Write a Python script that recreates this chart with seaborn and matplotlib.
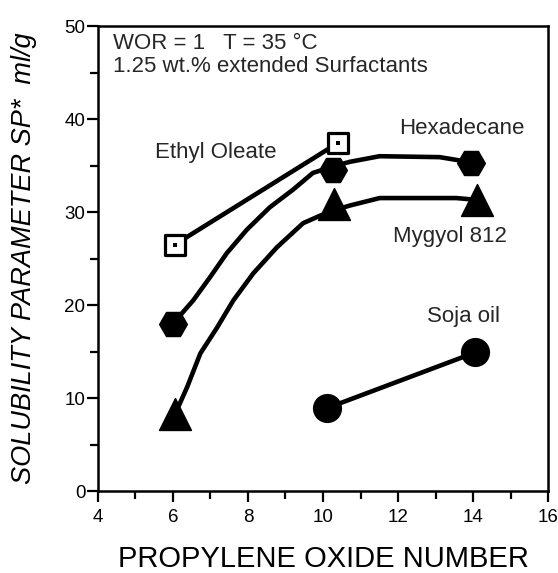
import numpy as np
import pandas as pd
import matplotlib
matplotlib.use("Agg")
import matplotlib.pyplot as plt
import seaborn as sns

# measured points (marker positions)
eo_x = [6.05, 10.39]
eo_y = [26.5, 37.4]
hex_x = [6.0, 10.26, 13.95]
hex_y = [18.0, 34.5, 35.3]
myg_x = [6.06, 10.3, 14.1]
myg_y = [8.3, 30.9, 31.3]
soja_x = [10.1, 14.06]
soja_y = [8.9, 14.9]

# hand drawn curves
hex_curve_x = [6.0, 6.54, 6.99, 7.44, 7.97, 8.58, 9.20, 9.73, 10.26, 10.72, 11.51, 13.11, 13.56, 13.95]
hex_curve_y = [18.0, 20.5, 23.0, 25.6, 28.1, 30.5, 32.4, 34.2, 34.9, 35.4, 36.0, 35.9, 35.6, 35.3]
myg_curve_x = [6.06, 6.38, 6.73, 7.18, 7.61, 8.14, 8.77, 9.47, 9.92, 10.3, 10.72, 11.51, 13.56, 14.1]
myg_curve_y = [8.3, 11.2, 14.8, 17.6, 20.5, 23.4, 26.2, 28.8, 29.6, 30.2, 30.7, 31.5, 31.5, 31.3]

sns.set_style("ticks")
plt.rcParams['font.family'] = ['Liberation Sans', 'DejaVu Sans']

fig = plt.figure(figsize=(5.58, 5.73), dpi=100)
ax = fig.add_axes([0.1756, 0.1431, 0.8065, 0.8115])

lw = 3.3
line_kw = dict(sort=False, color="black", lw=lw, ax=ax,
               solid_joinstyle="round", solid_capstyle="round")
sns.lineplot(x=eo_x, y=eo_y, **line_kw)
sns.lineplot(x=hex_curve_x, y=hex_curve_y, **line_kw)
sns.lineplot(x=myg_curve_x, y=myg_curve_y, **line_kw)
sns.lineplot(x=soja_x, y=soja_y, **line_kw)

sns.scatterplot(x=hex_x, y=hex_y, marker="H", s=20**2, color="black", edgecolor="black", linewidth=1, ax=ax, zorder=3)
sns.scatterplot(x=myg_x, y=myg_y, marker="^", s=23**2, color="black", edgecolor="black", linewidth=1, ax=ax, zorder=3)
sns.scatterplot(x=soja_x, y=soja_y, marker="o", s=20**2, color="black", edgecolor="black", linewidth=1, ax=ax, zorder=3)
sns.scatterplot(x=eo_x, y=eo_y, marker="s", s=14**2, color="white", edgecolor="black", linewidth=2.3, ax=ax, zorder=4)
sns.scatterplot(x=eo_x, y=eo_y, marker="s", s=3**2, color="black", edgecolor="black", linewidth=0, ax=ax, zorder=5)

ax.set_xlim(4, 16)
ax.set_ylim(0, 50)
ax.set_xticks(np.arange(4, 17, 2))
ax.set_yticks(np.arange(0, 51, 10))
ax.set_xticks(np.arange(5, 16, 2), minor=True)
ax.set_yticks(np.arange(5, 50, 10), minor=True)
ax.tick_params(which="major", length=8, width=1.6, labelsize=13.5, color="black", labelcolor="black")
ax.tick_params(axis="x", which="major", pad=5)
ax.tick_params(axis="y", which="major", pad=1)
ax.tick_params(which="minor", length=5.5, width=1.6, color="black")
for sp in ax.spines.values():
    sp.set_visible(True)
    sp.set_linewidth(1.8)
    sp.set_color("black")

ax.set_xlabel("PROPYLENE OXIDE NUMBER", fontsize=21, color="black")
ax.xaxis.set_label_coords(0.5, -0.116)
ax.set_ylabel("SOLUBILITY PARAMETER SP*  ml/g", fontsize=19.5, style="italic", color="black")
ax.yaxis.set_label_coords(-0.135, 0.5)

ax.text(4.4, 48.1, "WOR = 1   T = 35 °C", fontsize=16, va="center", ha="left")
ax.text(4.4, 45.6, "1.25 wt.% extended Surfactants", fontsize=16, va="center", ha="left")
ax.text(5.52, 36.45, "Ethyl Oleate", fontsize=16, va="center", ha="left")
ax.text(12.04, 39.0, "Hexadecane", fontsize=16, va="center", ha="left")
ax.text(11.86, 27.4, "Mygyol 812", fontsize=16, va="center", ha="left")
ax.text(12.76, 18.8, "Soja oil", fontsize=16, va="center", ha="left")

fig.savefig("out.png", dpi=100)
